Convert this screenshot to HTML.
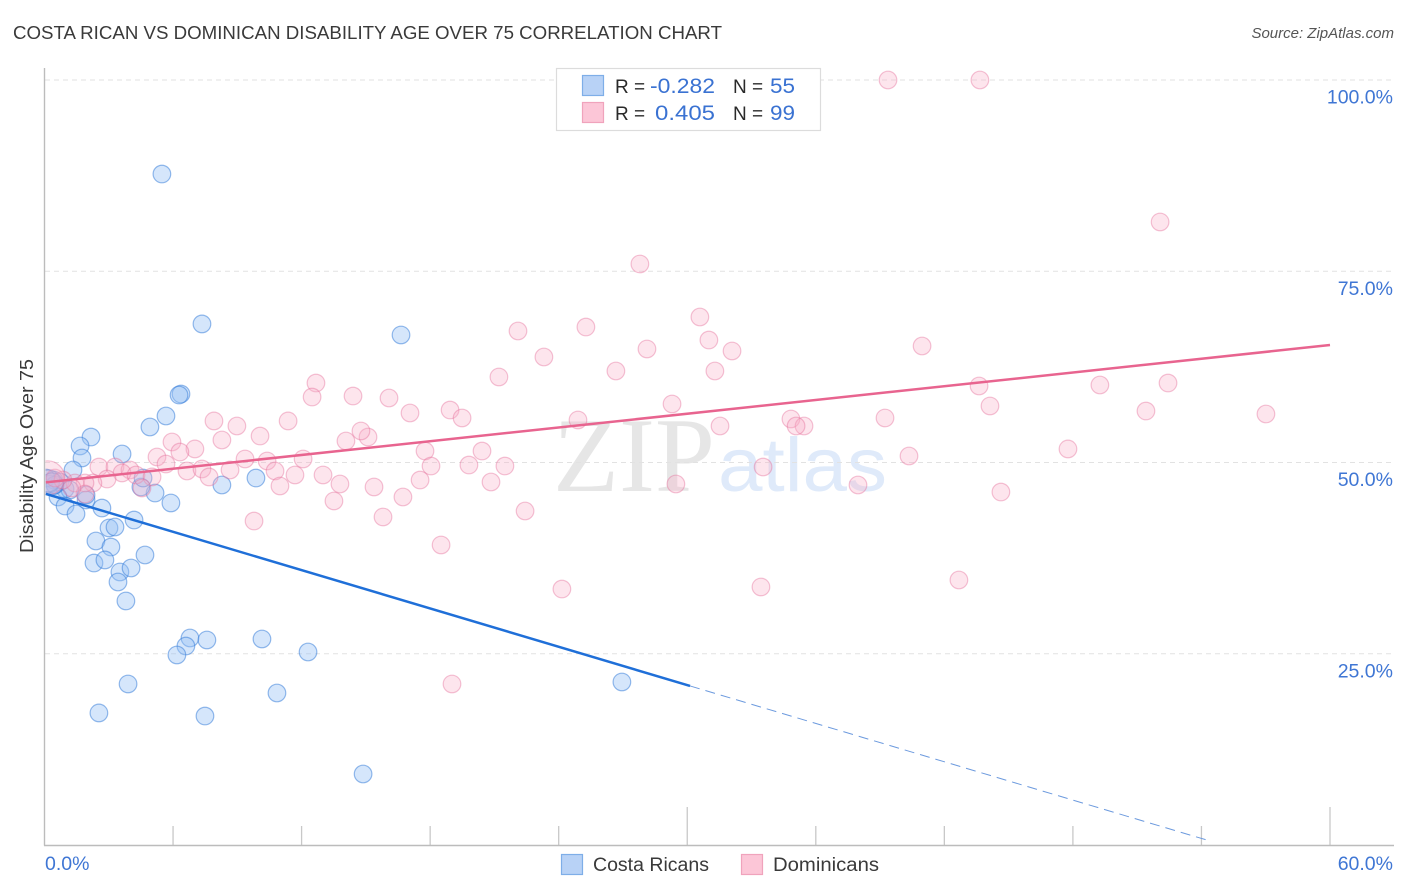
<!DOCTYPE html>
<html lang="en">
<head>
<meta charset="utf-8">
<title>Costa Rican vs Dominican Disability Age Over 75 Correlation Chart</title>
<style>
html,body{margin:0;padding:0;background:#fff;}
svg{display:block;font-family:"Liberation Sans",sans-serif;}
</style>
</head>
<body>
<svg id="chart" xmlns="http://www.w3.org/2000/svg" width="1406" height="892" viewBox="0 0 1406 892">
  <text x="13" y="39" font-size="18.5" fill="#3a3a3a" textLength="709" lengthAdjust="spacingAndGlyphs">COSTA RICAN VS DOMINICAN DISABILITY AGE OVER 75 CORRELATION CHART</text>
  <text x="1394" y="38" font-size="15" font-style="italic" fill="#555" text-anchor="end">Source: ZipAtlas.com</text>

  <text x="553" y="491" font-family="'Liberation Serif',serif" font-size="106" fill="#e6e6e6" textLength="162" lengthAdjust="spacingAndGlyphs">ZIP</text>
  <text x="718" y="491" font-size="76" fill="#dfeafa" textLength="169" lengthAdjust="spacingAndGlyphs">atlas</text>

  <g id="grid"></g>
  <g id="ticks"></g>
  <line x1="44.5" y1="68" x2="44.5" y2="845.5" stroke="#bcbcbc" stroke-width="1.4"/>
  <line x1="44" y1="845.5" x2="1394" y2="845.5" stroke="#bcbcbc" stroke-width="1.4"/>
  <defs><clipPath id="plot-clip"><rect x="45.5" y="60" width="1350" height="785"/></clipPath></defs>
  <g id="marks" clip-path="url(#plot-clip)"></g>
  <g id="labels"></g>

  <text transform="translate(33,456) rotate(-90)" font-size="18" fill="#3a3a3a" text-anchor="middle" textLength="194" lengthAdjust="spacingAndGlyphs">Disability Age Over 75</text>

  <g>
    <rect x="556.5" y="68.5" width="264" height="62" fill="#fff" stroke="#dcdcdc" stroke-width="1.2"/>
    <rect x="582.5" y="75.5" width="21" height="20" fill="#b8d2f6" stroke="#7eaee8" stroke-width="1.2"/>
    <rect x="582.5" y="102.5" width="21" height="20" fill="#fcc6d7" stroke="#f0a3bc" stroke-width="1.2"/>
    <text x="615" y="93" font-size="19" fill="#2a2a2a">R =</text>
    <text x="715" y="93" font-size="21" fill="#3a72d2" text-anchor="end" textLength="65" lengthAdjust="spacingAndGlyphs">-0.282</text>
    <text x="733" y="93" font-size="19" fill="#2a2a2a">N =</text>
    <text x="770" y="93" font-size="21" fill="#3a72d2" textLength="25" lengthAdjust="spacingAndGlyphs">55</text>
    <text x="615" y="120" font-size="19" fill="#2a2a2a">R =</text>
    <text x="715" y="120" font-size="21" fill="#3a72d2" text-anchor="end" textLength="60" lengthAdjust="spacingAndGlyphs">0.405</text>
    <text x="733" y="120" font-size="19" fill="#2a2a2a">N =</text>
    <text x="770" y="120" font-size="21" fill="#3a72d2" textLength="25" lengthAdjust="spacingAndGlyphs">99</text>
  </g>

  <g>
    <rect x="561.5" y="854.5" width="21" height="20" fill="#b8d2f6" stroke="#7eaee8" stroke-width="1.2"/>
    <text x="593" y="871" font-size="19" fill="#3a3a3a" textLength="116" lengthAdjust="spacingAndGlyphs">Costa Ricans</text>
    <rect x="741.5" y="854.5" width="21" height="20" fill="#fcc6d7" stroke="#f0a3bc" stroke-width="1.2"/>
    <text x="773" y="871" font-size="19" fill="#3a3a3a" textLength="106" lengthAdjust="spacingAndGlyphs">Dominicans</text>
  </g>
</svg>
<script>
const yTickValues = [100, 75, 50, 25];
const yTickLabels = ['100.0%', '75.0%', '50.0%', '25.0%'];
const xTickValues = [0, 6, 12, 18, 24, 30, 36, 42, 48, 54, 60];
const xMajorTicks = [30, 60];
const xEndLabels = ['0.0%', '60.0%'];

const costaX = [5.48,7.35,16.64,6.37,6.28,5.67,4.92,2.17,1.66,1.75,3.62,1.33,0.44,0.72,0.96,1.19,0.63,1.94,0.96,1.47,2.68,4.18,3.01,3.29,2.40,3.10,4.69,2.31,2.82,3.52,4.04,3.43,3.80,6.79,6.60,6.18,7.58,10.15,12.30,3.90,2.54,7.49,10.85,14.87,26.95,8.28,9.87,5.90,5.16,4.50,4.60,0.26,0.07,0.49,1.94];
const costaY = [87.71,68.11,66.67,58.95,58.82,56.08,54.64,53.33,52.16,50.59,51.11,49.02,47.71,47.45,46.54,46.41,45.49,45.10,44.31,43.27,44.05,42.48,41.44,41.57,39.74,38.95,37.91,36.86,37.26,35.69,36.21,34.38,31.90,27.06,26.01,24.84,26.80,26.93,25.23,21.05,17.26,16.86,19.87,9.28,21.31,47.06,47.97,44.71,46.01,46.80,47.97,47.19,47.97,47.06,45.75];

const dominicanX = [39.37,43.66,52.07,27.79,30.59,25.27,22.10,31.01,32.09,28.12,40.96,23.31,26.67,31.29,21.21,12.67,43.62,49.26,52.44,14.40,12.49,16.08,29.29,44.13,18.93,51.41,57.01,17.06,19.49,24.90,39.23,34.84,7.91,8.98,11.37,35.45,35.08,31.53,10.06,8.28,5.95,14.07,15.10,14.77,7.02,6.32,5.25,17.76,20.42,47.77,40.35,12.07,9.36,10.39,21.49,19.81,18.04,33.54,2.54,3.29,3.99,3.62,4.27,6.65,7.35,8.66,10.76,5.67,5.02,7.68,2.92,2.26,1.89,1.42,11.69,13.00,13.79,15.38,17.53,20.84,29.47,37.97,10.99,16.73,13.51,44.64,22.43,15.80,9.78,18.51,24.15,33.44,42.68,19.02,4.55,1.89,1.28,0.86,0.49];
const dominicanY = [100,100,81.44,75.95,69.02,67.71,67.19,66.01,64.58,64.84,65.23,63.79,61.96,61.96,61.18,60.39,60.00,60.13,60.39,58.69,58.56,58.43,57.65,57.39,56.86,56.73,56.34,56.47,55.82,55.56,55.82,55.69,55.43,54.77,55.43,54.77,54.77,54.77,53.46,52.94,52.68,52.81,53.33,54.12,51.77,51.37,50.72,51.50,51.50,51.77,50.85,50.46,50.46,50.20,49.54,49.67,49.54,49.41,49.41,49.41,49.02,48.63,48.37,48.89,49.15,49.02,48.89,49.80,48.11,48.11,47.84,47.32,47.32,47.32,48.37,48.37,47.19,46.80,47.71,47.45,47.19,47.06,46.93,45.49,44.97,46.14,43.66,42.88,42.35,39.22,33.46,33.73,34.64,21.05,46.67,45.88,46.67,47.71,47.97];

const clusterCostaX = [0.20, 0.35];
const clusterCostaY = [47.6, 47.2];
const clusterDominicanX = [0.15];
const clusterDominicanY = [48.0];

const costaTrend = { intercept: 45.95, slope: -0.835, solidEnd: 30.13, dashEnd: 54.26 };
const dominicanTrend = { intercept: 47.39, slope: 0.2995, solidEnd: 60 };

const NS = 'http://www.w3.org/2000/svg';
const sx = v => 44.5 + v * 21.425;
const sy = v => 845 - v * 7.65;

function make(tag, attrs, parent) {
  const el = document.createElementNS(NS, tag);
  for (const k in attrs) el.setAttribute(k, attrs[k]);
  parent.appendChild(el);
  return el;
}

const gridG = document.getElementById('grid');
const ticksG = document.getElementById('ticks');
const marksG = document.getElementById('marks');
const labelsG = document.getElementById('labels');

yTickValues.forEach((v, i) => {
  const line = make('line', { x1: 45, x2: 1394, y1: sy(v), y2: sy(v), stroke: '#e2e2e2', 'stroke-width': 1, 'stroke-dasharray': '5 4' }, gridG);
  
  
  const t = make('text', { x: 1393, y: sy(v) + 23.5, 'font-size': 19.5, fill: '#3f76d4', 'text-anchor': 'end' }, labelsG);
  t.textContent = yTickLabels[i];
  
  
});

xTickValues.slice(1).forEach(v => {
  const top = xMajorTicks.includes(v) ? 807 : 826;
  const line = make('line', { x1: sx(v), x2: sx(v), y1: top, y2: 845, stroke: '#c8c8c8', 'stroke-width': 1.3 }, ticksG);
  
  
});

const xLabelLeft = make('text', { x: 45, y: 870, 'font-size': 19.5, fill: '#3f76d4' }, labelsG);
xLabelLeft.textContent = xEndLabels[0];


const xLabelRight = make('text', { x: 1393, y: 870, 'font-size': 19.5, fill: '#3f76d4', 'text-anchor': 'end' }, labelsG);
xLabelRight.textContent = xEndLabels[1];



function drawPoints(xs, ys, radius, fill, stroke, name) {
  xs.forEach((x, i) => {
    const c = make('circle', { cx: sx(x), cy: sy(ys[i]), r: radius, fill: fill, stroke: stroke, 'stroke-width': 1.2 }, marksG);
    
    
  });
}

const blueFill = 'rgba(150,192,245,0.40)';
const blueStroke = 'rgba(45,120,215,0.50)';
const pinkFill = 'rgba(250,175,198,0.32)';
const pinkStroke = 'rgba(228,105,150,0.40)';

drawPoints(costaX, costaY, 8.8, blueFill, blueStroke, 'costa-rican-point');
drawPoints(clusterCostaX, clusterCostaY, 11, blueFill, blueStroke, 'costa-rican-cluster-point');
drawPoints(dominicanX, dominicanY, 8.8, pinkFill, pinkStroke, 'dominican-point');
drawPoints(clusterDominicanX, clusterDominicanY, 17, pinkFill, pinkStroke, 'dominican-cluster-point');

const blueLine = make('line', {
  x1: sx(0.06), y1: sy(costaTrend.intercept + costaTrend.slope * 0.06),
  x2: sx(costaTrend.solidEnd), y2: sy(costaTrend.intercept + costaTrend.slope * costaTrend.solidEnd),
  stroke: '#1f6fd8', 'stroke-width': 2.5
}, marksG);



const blueDash = make('line', {
  x1: sx(costaTrend.solidEnd), y1: sy(costaTrend.intercept + costaTrend.slope * costaTrend.solidEnd),
  x2: sx(costaTrend.dashEnd), y2: sy(costaTrend.intercept + costaTrend.slope * costaTrend.dashEnd),
  stroke: '#6c9ade', 'stroke-width': 1, 'stroke-dasharray': '10 6'
}, marksG);



const pinkLine = make('line', {
  x1: sx(0.06), y1: sy(dominicanTrend.intercept + dominicanTrend.slope * 0.06),
  x2: sx(dominicanTrend.solidEnd), y2: sy(dominicanTrend.intercept + dominicanTrend.slope * dominicanTrend.solidEnd),
  stroke: '#e8648f', 'stroke-width': 2.5
}, marksG);


</script>
</body>
</html>
